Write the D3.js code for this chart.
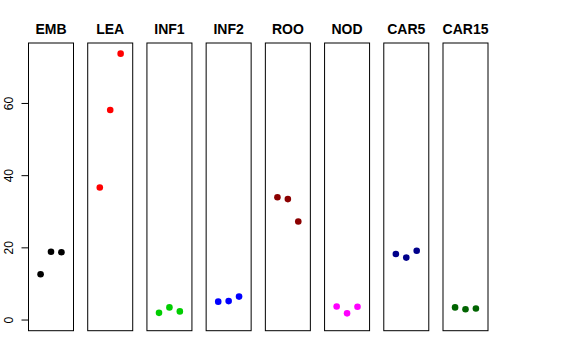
<!DOCTYPE html>
<html><head><meta charset="utf-8">
<script src="https://cdn.jsdelivr.net/npm/d3@7"></script>
<style>body{margin:0;background:#fff}svg{display:block}</style>
</head><body>
<svg id="chart" width="576" height="360"></svg>
<script>
const categories = ["EMB","LEA","INF1","INF2","ROO","NOD","CAR5","CAR15"];
const colors = ["#000000","#FF0000","#00CD00","#0000FF","#8B0000","#FF00FF","#00008B","#006400"];
const valuesEMB = [12.7, 18.9, 18.8];
const valuesLEA = [36.7, 58.2, 73.8];
const valuesINF1 = [2.0, 3.5, 2.4];
const valuesINF2 = [5.1, 5.25, 6.5];
const valuesROO = [34.0, 33.5, 27.3];
const valuesNOD = [3.75, 1.85, 3.7];
const valuesCAR5 = [18.3, 17.3, 19.2];
const valuesCAR15 = [3.5, 3.0, 3.2];
const yTicks = [0, 20, 40, 60];

const series = [valuesEMB, valuesLEA, valuesINF1, valuesINF2, valuesROO, valuesNOD, valuesCAR5, valuesCAR15];

const svg = d3.select("#chart");
const plotTop = 43, plotBottom = 330.7;
const ymax = d3.max(series.flat());
const ypad = ymax * 0.04;
const y = d3.scaleLinear().domain([-ypad, ymax + ypad]).range([plotBottom, plotTop]);

const band = d3.scaleBand().domain(categories).range([28.5, 488]).paddingInner(0.24).paddingOuter(0);
const xInner = d3.scaleLinear().domain([-0.16, 4.16]).range([0, band.bandwidth()]);

categories.forEach((c, i) => {
  const g = svg.append("g").attr("transform", `translate(${band(c)},0)`);
  g.append("rect").attr("x", 0).attr("y", plotTop).attr("width", band.bandwidth()).attr("height", plotBottom - plotTop)
    .attr("fill", "none").attr("stroke", "#000").attr("stroke-width", 1);
  g.selectAll("circle").data(series[i]).join("circle")
    .attr("cx", (d, j) => xInner(j + 1))
    .attr("cy", d => y(d))
    .attr("r", 3.3)
    .attr("fill", colors[i]);
  g.append("text").attr("x", band.bandwidth() / 2).attr("y", 34)
    .attr("text-anchor", "middle").attr("font-family", "Liberation Sans, Arial, sans-serif")
    .attr("font-weight", "bold").attr("font-size", 14).text(c);
});

// y axis
const ax = svg.append("g");
const x0 = band(categories[0]);
ax.append("line").attr("x1", x0).attr("x2", x0).attr("y1", y(0)).attr("y2", y(60)).attr("stroke", "#000");
ax.selectAll("line.tick").data(yTicks).join("line").attr("class", "tick")
  .attr("x1", x0 - 7).attr("x2", x0).attr("y1", d => y(d)).attr("y2", d => y(d)).attr("stroke", "#000");
ax.selectAll("text").data(yTicks).join("text")
  .attr("transform", d => `translate(12.7,${y(d)}) rotate(-90)`)
  .attr("text-anchor", "middle").attr("font-family", "Liberation Sans, Arial, sans-serif")
  .attr("font-size", 12).text(d => d);
</script>
</body></html>
